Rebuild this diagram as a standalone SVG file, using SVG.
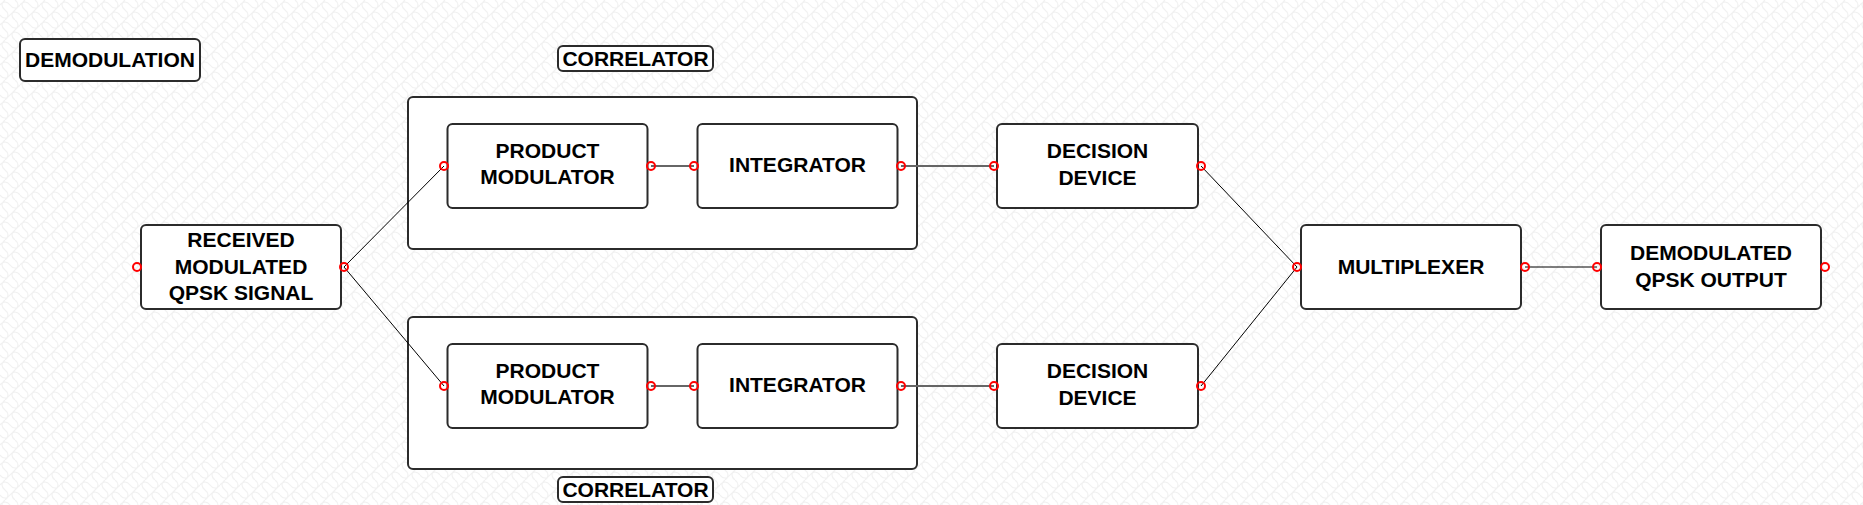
<svg xmlns="http://www.w3.org/2000/svg" width="1863" height="505" viewBox="0 0 1863 505">
<defs>
<pattern id="bg" width="20" height="20" patternUnits="userSpaceOnUse">
<rect width="20" height="20" fill="#ffffff"/>
<path d="M0 5 C3 1 7 1 10 5 S17 9 20 5 M0 15 C3 19 7 19 10 15 S17 11 20 15 M5 0 C1 3 1 7 5 10 S9 17 5 20 M15 0 C19 3 19 7 15 10 S11 17 15 20" fill="none" stroke="#f1f1f1" stroke-width="1.1"/>
</pattern>
<style>
.box{fill:#ffffff;stroke:#2b2b2b;stroke-width:2}
.t{font-family:"Liberation Sans",Arial,sans-serif;font-weight:bold;font-size:21px;fill:#000000;text-anchor:middle}
.port{fill:none;stroke:#ff0000;stroke-width:2}
.thin{stroke:#000000;stroke-width:1;fill:none}
.gray{stroke:#666666;stroke-width:2;fill:none}
</style>
</defs>
<rect width="1863" height="505" fill="url(#bg)"/>

<g id="label-demodulation">
<rect class="box" x="20" y="39" width="180" height="42" rx="5"/>
<text class="t" x="110" y="67">DEMODULATION</text>
</g>

<g id="label-correlator-top">
<rect class="box" x="558" y="46" width="155" height="25" rx="5"/>
<text class="t" x="635.5" y="66">CORRELATOR</text>
</g>

<g id="label-correlator-bottom">
<rect class="box" x="558" y="477" width="155" height="25" rx="5"/>
<text class="t" x="635.5" y="497">CORRELATOR</text>
</g>

<g id="correlator-top">
<rect class="box" x="408" y="97" width="509" height="152" rx="5"/>
</g>
<g id="correlator-bottom">
<rect class="box" x="408" y="317" width="509" height="152" rx="5"/>
</g>

<g id="connectors">
<line class="thin" x1="344" y1="267" x2="444" y2="166"/>
<line class="thin" x1="344" y1="267" x2="444" y2="386"/>
<line class="gray" x1="651" y1="166" x2="694" y2="166"/>
<line class="gray" x1="651" y1="386" x2="694" y2="386"/>
<line class="gray" x1="901" y1="166" x2="994" y2="166"/>
<line class="gray" x1="901" y1="386" x2="994" y2="386"/>
<line class="thin" x1="1201" y1="166" x2="1297" y2="267"/>
<line class="thin" x1="1201" y1="386" x2="1297" y2="267"/>
<line class="thin" x1="1525" y1="267" x2="1597" y2="267"/>
</g>

<g id="received">
<rect class="box" x="141" y="225" width="200" height="84" rx="5"/>
<text class="t" x="241" y="247">RECEIVED</text>
<text class="t" x="241" y="274">MODULATED</text>
<text class="t" x="241" y="300">QPSK SIGNAL</text>
<circle class="port" cx="137" cy="267" r="4"/>
<circle class="port" cx="344" cy="267" r="4"/>
</g>

<g id="product-modulator-top">
<rect class="box" x="447.5" y="124" width="200" height="84" rx="5"/>
<text class="t" x="547.5" y="158">PRODUCT</text>
<text class="t" x="547.5" y="184">MODULATOR</text>
<circle class="port" cx="444" cy="166" r="4"/>
<circle class="port" cx="651" cy="166" r="4"/>
</g>

<g id="integrator-top">
<rect class="box" x="697.5" y="124" width="200" height="84" rx="5"/>
<text class="t" x="797.5" y="172">INTEGRATOR</text>
<circle class="port" cx="694" cy="166" r="4"/>
<circle class="port" cx="901" cy="166" r="4"/>
</g>

<g id="product-modulator-bottom">
<rect class="box" x="447.5" y="344" width="200" height="84" rx="5"/>
<text class="t" x="547.5" y="378">PRODUCT</text>
<text class="t" x="547.5" y="404">MODULATOR</text>
<circle class="port" cx="444" cy="386" r="4"/>
<circle class="port" cx="651" cy="386" r="4"/>
</g>

<g id="integrator-bottom">
<rect class="box" x="697.5" y="344" width="200" height="84" rx="5"/>
<text class="t" x="797.5" y="392">INTEGRATOR</text>
<circle class="port" cx="694" cy="386" r="4"/>
<circle class="port" cx="901" cy="386" r="4"/>
</g>

<g id="decision-top">
<rect class="box" x="997" y="124" width="201" height="84" rx="5"/>
<text class="t" x="1097.5" y="158">DECISION</text>
<text class="t" x="1097.5" y="185">DEVICE</text>
<circle class="port" cx="994" cy="166" r="4"/>
<circle class="port" cx="1201" cy="166" r="4"/>
</g>

<g id="decision-bottom">
<rect class="box" x="997" y="344" width="201" height="84" rx="5"/>
<text class="t" x="1097.5" y="378">DECISION</text>
<text class="t" x="1097.5" y="405">DEVICE</text>
<circle class="port" cx="994" cy="386" r="4"/>
<circle class="port" cx="1201" cy="386" r="4"/>
</g>

<g id="multiplexer">
<rect class="box" x="1301" y="225" width="220" height="84" rx="5"/>
<text class="t" x="1411" y="274">MULTIPLEXER</text>
<circle class="port" cx="1297" cy="267" r="4"/>
<circle class="port" cx="1525" cy="267" r="4"/>
</g>

<g id="demodulated-output">
<rect class="box" x="1601" y="225" width="220" height="84" rx="5"/>
<text class="t" x="1711" y="260">DEMODULATED</text>
<text class="t" x="1711" y="287">QPSK OUTPUT</text>
<circle class="port" cx="1597" cy="267" r="4"/>
<circle class="port" cx="1825" cy="267" r="4"/>
</g>
</svg>
